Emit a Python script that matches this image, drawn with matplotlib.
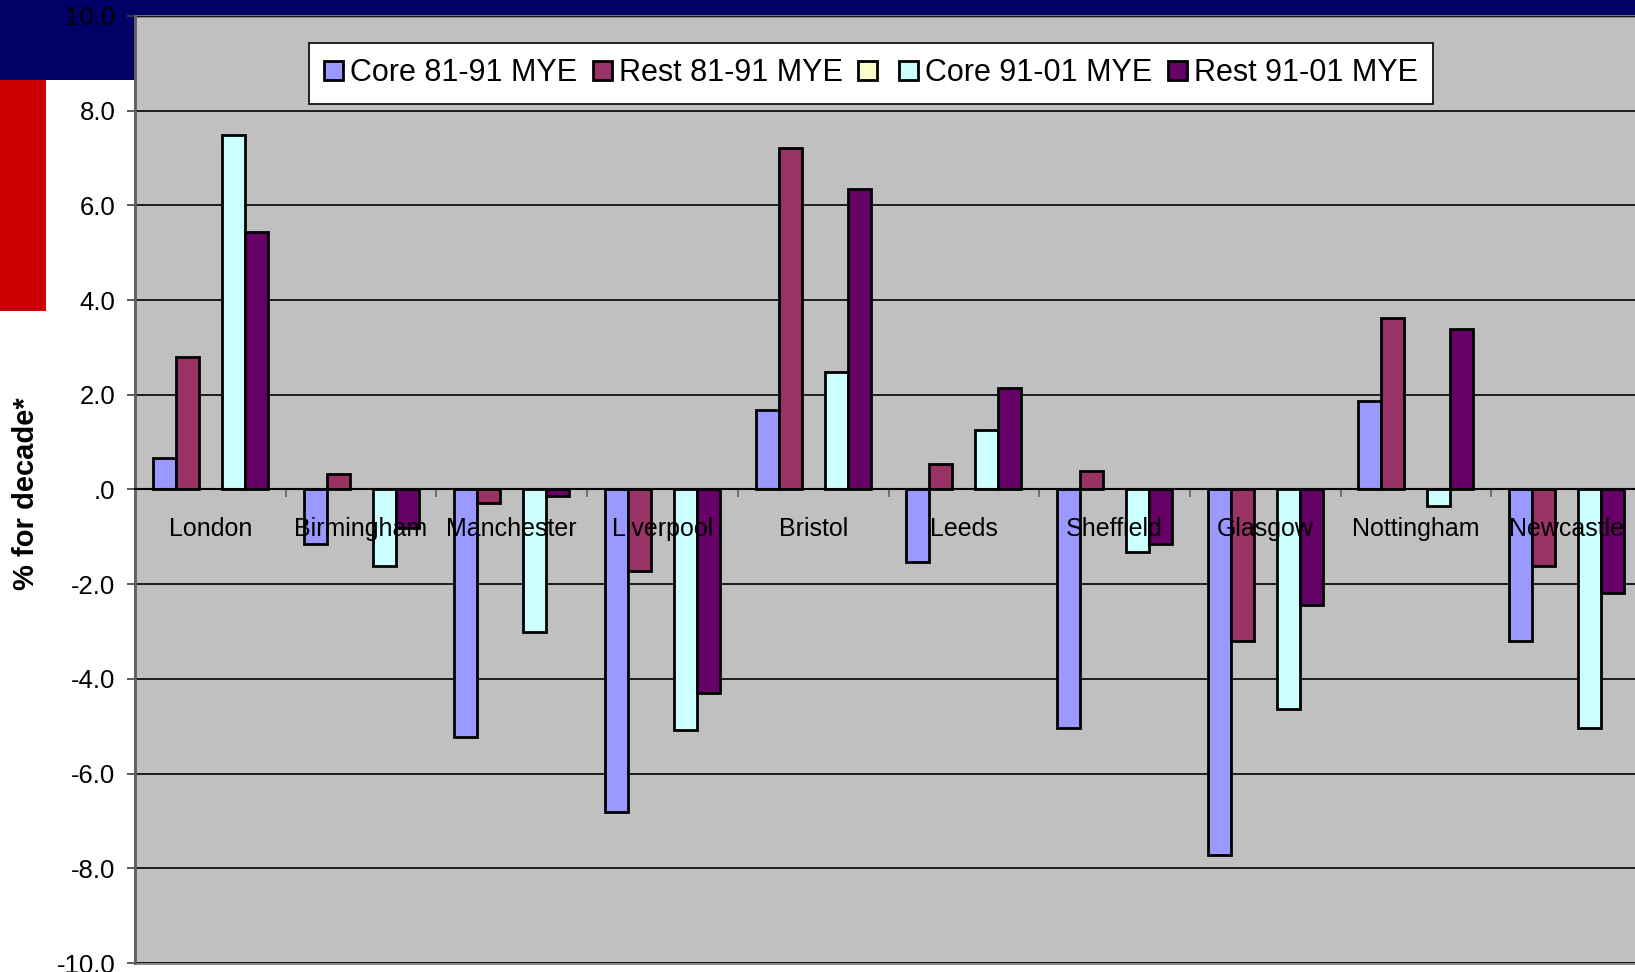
import numpy as np
import matplotlib
matplotlib.use("Agg")
import matplotlib.pyplot as plt
from matplotlib.patches import Rectangle, Patch

plt.rcParams['font.family'] = ['Liberation Sans', 'DejaVu Sans']

cities = ["London", "Birmingham", "Manchester", "Liverpool", "Bristol",
          "Leeds", "Sheffield", "Glasgow", "Nottingham", "Newcastle"]

series_names = ["Core 81-91 MYE", "Rest 81-91 MYE", "", "Core 91-01 MYE", "Rest 91-01 MYE"]
series_colors = ["#9999FF", "#993366", "#FFFFCC", "#CCFFFF", "#660066"]

core_81_91 = [0.67, -1.15, -5.22, -6.81, 1.67, -1.54, -5.04, -7.71, 1.86, -3.20]
rest_81_91 = [2.79, 0.32, -0.29, -1.72, 7.22, 0.53, 0.40, -3.20, 3.63, -1.62]
blank_series = [np.nan] * 10   # empty series kept as a spacer
core_91_01 = [7.48, -1.61, -3.02, -5.07, 2.49, 1.26, -1.32, -4.63, -0.34, -5.04]
rest_91_01 = [5.43, -0.81, -0.13, -4.30, 6.34, 2.14, -1.15, -2.43, 3.39, -2.18]

series = [core_81_91, rest_81_91, blank_series, core_91_01, rest_91_01]

W, H = 1635, 972
fig = plt.figure(figsize=(W / 100, H / 100), dpi=100)
fig.patch.set_facecolor("white")

# slide decoration behind the chart
for xy, w, h, col in [((0, 1 - 16 / H), 1, 16 / H, "#000066"),
                      ((0, 1 - 80 / H), 135 / W, 80 / H, "#000066"),
                      ((0, 1 - 311 / H), 46 / W, 231 / H, "#CC0000")]:
    fig.patches.append(Rectangle(xy, w, h, transform=fig.transFigure,
                                 facecolor=col, edgecolor="none", zorder=-1))

ax = fig.add_axes([135 / W, 1 - 963 / H, 1507 / W, 947 / H])
ax.set_facecolor("#C0C0C0")
ax.patch.set_edgecolor("#808080")
ax.patch.set_linewidth(2)

x = np.arange(len(cities))
width = 0.1526
for i, (vals, name, col) in enumerate(zip(series, series_names, series_colors)):
    ax.bar(x + (i - 2) * width, vals, width, color=col, edgecolor="black",
           linewidth=2, label=name, zorder=2)

ax.set_xlim(-0.5, len(cities) - 0.5)
ax.set_ylim(-10, 10)
ax.set_yticks(np.arange(-10, 11, 2))
ax.set_yticklabels([(f"{v:.1f}" if v != 0 else ".0") for v in np.arange(-10, 11, 2)])
ax.yaxis.grid(True, color="black", linewidth=1.2)
ax.set_axisbelow(True)
ax.tick_params(axis="y", labelsize=18.5, length=6, width=1.2, color="#404040", pad=8)

# category axis sits on the zero line, ticks between cities
for side in ["top", "right"]:
    ax.spines[side].set_visible(False)
ax.spines["left"].set_color("#606060")
ax.spines["left"].set_linewidth(2)
ax.spines["bottom"].set_position(("data", 0))
ax.spines["bottom"].set_color("black")
ax.spines["bottom"].set_linewidth(1.5)
ax.set_xticks(np.arange(0.5, len(cities) - 0.5, 1))
ax.set_xticklabels([])
ax.tick_params(axis="x", length=6, width=1.2, color="#606060", direction="out")

for xi, name in zip(x, cities):
    ax.text(xi, -0.84, name, ha="center", va="center", fontsize=18, zorder=5)

fig.text(26 / W, 1 - 494 / H, "% for decade*", rotation=90, ha="center", va="center",
         fontsize=21, fontweight="bold")

handles = [Patch(facecolor=c, edgecolor="black", linewidth=2) for c in series_colors]
leg = ax.legend(handles, series_names, loc="upper left", bbox_to_anchor=(0.1155, 0.9715),
                borderaxespad=0, ncol=5, fontsize=22, handlelength=0.62, handleheight=0.62,
                handletextpad=0.23, columnspacing=0.5, borderpad=0.5, fancybox=False,
                framealpha=1, edgecolor="black")
leg.get_frame().set_linewidth(1.2)

fig.savefig("out.png", dpi=100)
